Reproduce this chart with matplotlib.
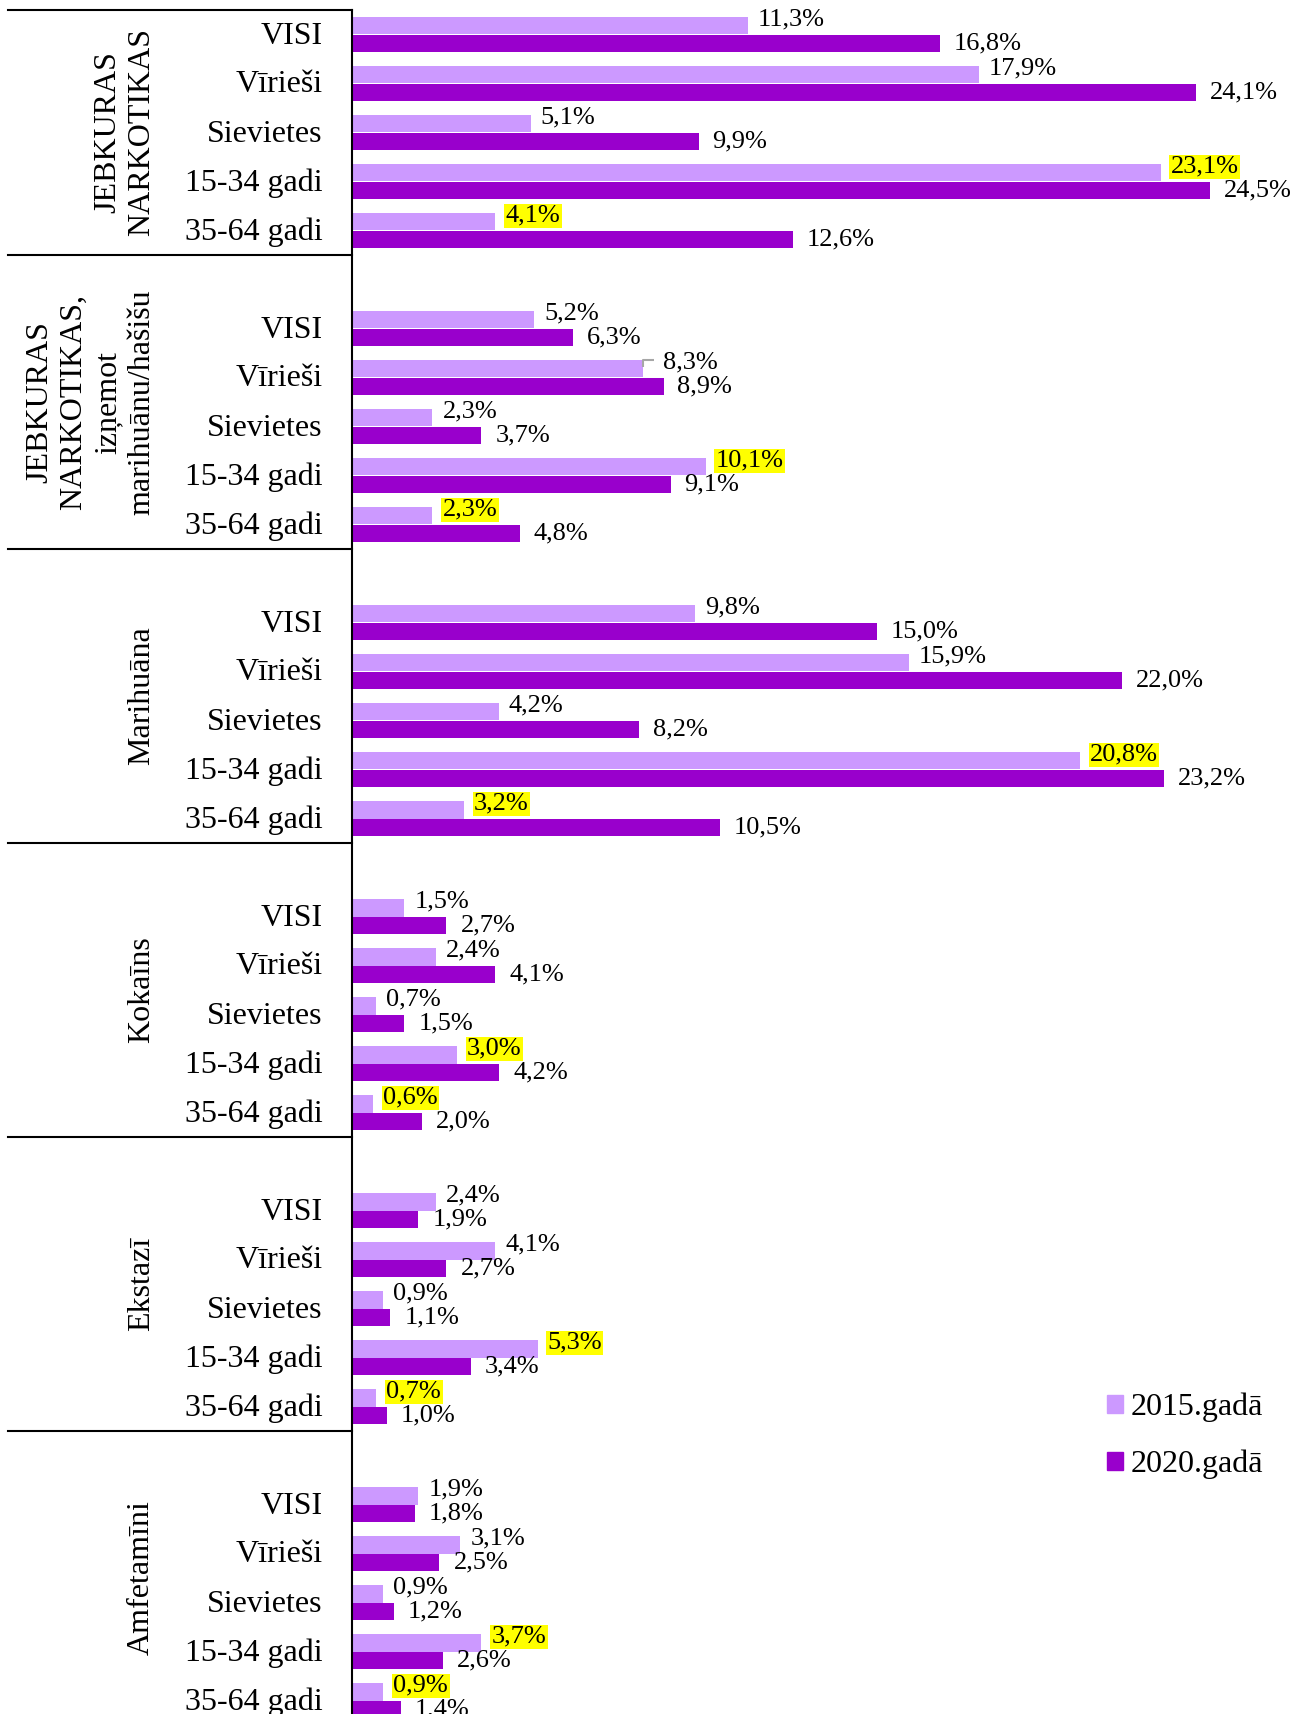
import matplotlib
matplotlib.use("Agg")
import matplotlib.pyplot as plt
import matplotlib.transforms as mtransforms
from matplotlib.patches import Patch

# data
groups = [
    "JEBKURAS\nNARKOTIKAS",
    "JEBKURAS\nNARKOTIKAS,\nizņemot\nmarihuānu/hašišu",
    "Marihuāna",
    "Kokaīns",
    "Ekstazī",
    "Amfetamīni",
]
categories = ["VISI", "Vīrieši", "Sievietes", "15-34 gadi", "35-64 gadi"]
series_names = ["2015.gadā", "2020.gadā"]

values_2015 = [
    [11.3, 17.9, 5.1, 23.1, 4.1],
    [5.2, 8.3, 2.3, 10.1, 2.3],
    [9.8, 15.9, 4.2, 20.8, 3.2],
    [1.5, 2.4, 0.7, 3.0, 0.6],
    [2.4, 4.1, 0.9, 5.3, 0.7],
    [1.9, 3.1, 0.9, 3.7, 0.9],
]
values_2020 = [
    [16.8, 24.1, 9.9, 24.5, 12.6],
    [6.3, 8.9, 3.7, 9.1, 4.8],
    [15.0, 22.0, 8.2, 23.2, 10.5],
    [2.7, 4.1, 1.5, 4.2, 2.0],
    [1.9, 2.7, 1.1, 3.4, 1.0],
    [1.8, 2.5, 1.2, 2.6, 1.4],
]
highlight_2015 = [3, 4]  # 2015 labels with yellow background
leader_label = (1, 1)    # (group, category) of the 2015 label moved with a leader line

c_light = "#CC99FF"
c_dark = "#9900CC"
serif = "Liberation Serif"

W, H = 1308, 1714
fig = plt.figure(figsize=(W / 100, H / 100), dpi=100)

n_slots = 5 + 6 * (len(groups) - 1)
top_px, slot_px = 10, 49
left_px = 352
px_per_pct = 35.0
ax = fig.add_axes([left_px / W, 1 - (top_px + n_slots * slot_px) / H,
                   27 * px_per_pct / W, n_slots * slot_px / H])
ax.set_xlim(0, 27)
ax.set_ylim(n_slots, 0)

fmt = lambda v: f"{v:.1f}%".replace(".", ",")

bh = 0.35
centers, labels, bounds = [], [], []
start = 0
for g in range(len(groups)):
    if g > 0:
        start += 1  # blank slot before each following group
    bounds.append(start - (1 if g > 0 else 0))
    for k, cat in enumerate(categories):
        yc = start + k + 0.5
        centers.append(yc)
        labels.append(cat)
        v1, v2 = values_2015[g][k], values_2020[g][k]
        ax.barh(yc - bh / 2, v1, height=bh, color=c_light)
        ax.barh(yc + bh / 2, v2, height=bh, color=c_dark)
        bbox = None
        if k in highlight_2015:
            bbox = dict(facecolor="yellow", edgecolor="none", pad=1)
        dx = 10
        if (g, k) == leader_label:
            dx = 20
            # small grey leader from the bar end to the moved label
            ax.plot([v1, v1, v1 + 11 / px_per_pct],
                    [yc - bh + 7 / slot_px, yc - bh, yc - bh],
                    color="#A6A6A6", lw=1.5, solid_capstyle="butt")
        ax.annotate(fmt(v1), (v1, yc - bh / 2), xytext=(dx, 6),
                    textcoords="offset pixels", ha="left", va="center",
                    fontsize=19, family=serif, bbox=bbox)
        ax.annotate(fmt(v2), (v2, yc + bh / 2), xytext=(14, 0),
                    textcoords="offset pixels", ha="left", va="center",
                    fontsize=19, family=serif)
    start += 5

ax.set_yticks(centers, labels, fontsize=23, family=serif)
ax.tick_params(axis="y", length=0, pad=21)
for t in ax.get_yticklabels():
    t.set_transform(t.get_transform() + mtransforms.Affine2D().translate(0, 2))
ax.set_xticks([])
for s in ["top", "right", "bottom"]:
    ax.spines[s].set_visible(False)
ax.spines["left"].set_linewidth(1.5)

# group labels and separators in the left margin
tr = mtransforms.blended_transform_factory(fig.transFigure, ax.transData)
for g, name in enumerate(groups):
    y0 = bounds[g]
    y1 = bounds[g + 1] if g + 1 < len(groups) else n_slots
    ax.text(156 / W, (y0 + y1) / 2, name, transform=tr, rotation=90,
            ha="right", va="center", multialignment="center",
            fontsize=23, family=serif, linespacing=1.22)
    ax.plot([8 / W, left_px / W], [y0, y0], transform=tr, color="black",
            lw=1.5, clip_on=False)

handles = [Patch(color=c_light), Patch(color=c_dark)]
fig.legend(handles, series_names, loc="center left",
           bbox_to_anchor=(1107 / W, 1 - 1436 / H), frameon=False,
           prop={"family": serif, "size": 23}, handlelength=0.5,
           handleheight=0.5, handletextpad=0.25, labelspacing=0.85,
           borderpad=0, borderaxespad=0)

fig.savefig("out.png", dpi=100)
